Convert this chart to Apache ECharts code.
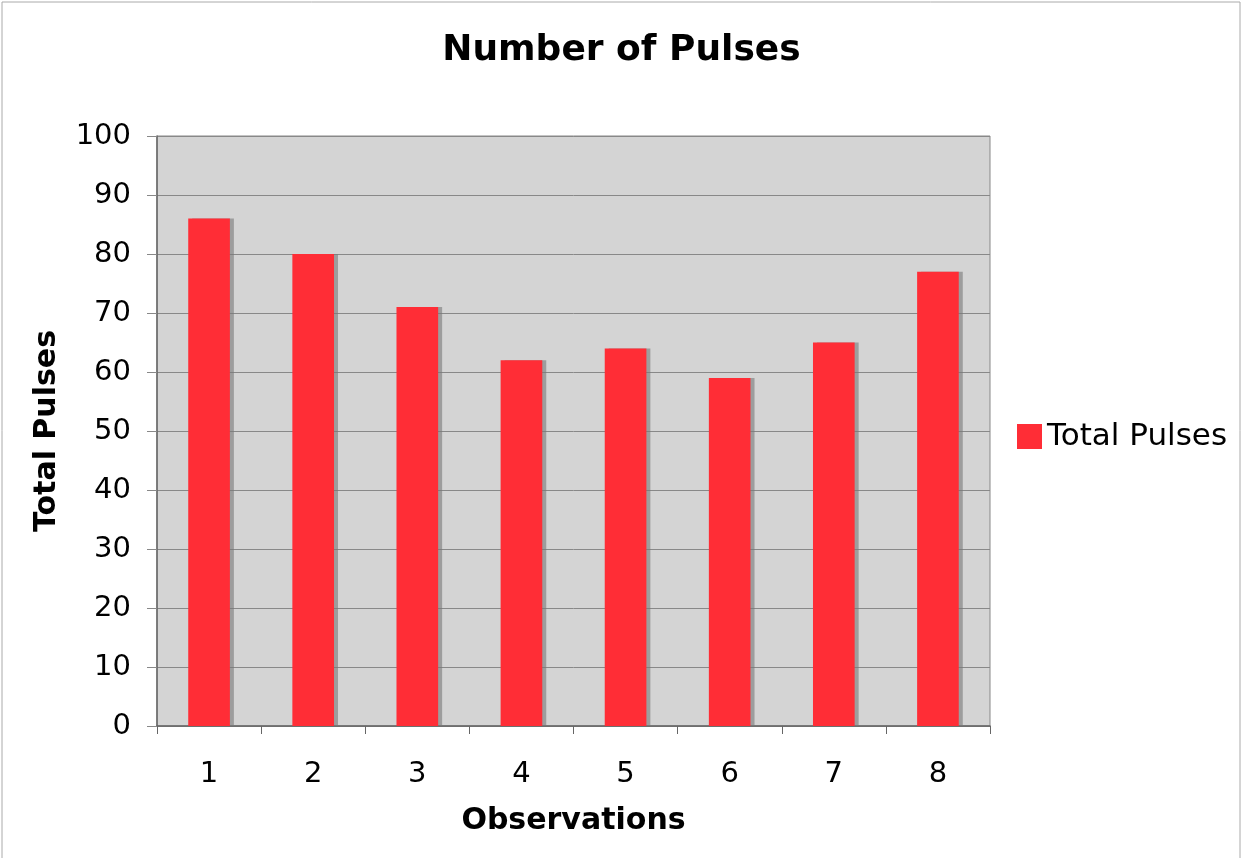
<!DOCTYPE html>
<html>
<head>
<meta charset="utf-8">
<script src="https://cdn.jsdelivr.net/npm/echarts@6/dist/echarts.min.js"></script>
<style>
  html, body { margin: 0; padding: 0; background: #fff; }
  #main { width: 1243px; height: 858px; }
</style>
</head>
<body>
<div id="main"></div>
<script>
var observations = ['1', '2', '3', '4', '5', '6', '7', '8'];
var totalPulses = [86, 80, 71, 62, 64, 59, 65, 77];

var chart = echarts.init(document.getElementById('main'));

var option = {
  animation: false,
  textStyle: { fontFamily: 'DejaVu Sans' },
  graphic: [{
    type: 'rect',
    shape: { x: 2, y: 2, width: 1238, height: 860 },
    style: { fill: 'none', stroke: '#aaa', lineWidth: 1 }
  }],
  title: {
    text: 'Number of Pulses',
    left: 'center',
    top: 28,
    textStyle: { fontSize: 36, fontWeight: 'bold', color: '#000', fontFamily: 'DejaVu Sans' }
  },
  legend: {
    orient: 'vertical',
    left: 1012,
    top: 416,
    itemWidth: 25,
    itemHeight: 25,
    itemGap: 8,
    icon: 'rect',
    textStyle: { fontSize: 31, color: '#000', fontFamily: 'DejaVu Sans' },
    data: ['Total Pulses']
  },
  grid: {
    left: 157,
    top: 136,
    width: 833,
    height: 590,
    show: true,
    backgroundColor: '#d4d4d4',
    borderColor: '#888',
    borderWidth: 1
  },
  xAxis: {
    type: 'category',
    data: observations,
    name: 'Observations',
    nameLocation: 'middle',
    nameGap: 80,
    nameTextStyle: { fontSize: 30, fontWeight: 'bold', color: '#000' },
    axisLine: { lineStyle: { color: '#666', width: 1.5 } },
    axisTick: { show: true, length: 8, lineStyle: { color: '#666' } },
    axisLabel: { fontSize: 29, color: '#000', margin: 34 }
  },
  yAxis: {
    type: 'value',
    min: 0,
    max: 100,
    interval: 10,
    name: 'Total Pulses',
    nameLocation: 'middle',
    nameGap: 95,
    nameTextStyle: { fontSize: 30, fontWeight: 'bold', color: '#000' },
    axisLine: { show: true, lineStyle: { color: '#666', width: 1.5 } },
    axisTick: { show: true, length: 10, lineStyle: { color: '#888' } },
    axisLabel: { fontSize: 29, color: '#000', margin: 26 },
    splitLine: { lineStyle: { color: '#888', width: 1 } }
  },
  series: [{
    name: 'Total Pulses',
    type: 'bar',
    data: totalPulses,
    barWidth: '40%',
    itemStyle: {
      color: '#ff2d36',
      shadowColor: 'rgba(120,120,120,0.6)',
      shadowOffsetX: 4,
      shadowOffsetY: 0,
      shadowBlur: 0
    }
  }]
};

chart.setOption(option);
</script>
</body>
</html>
